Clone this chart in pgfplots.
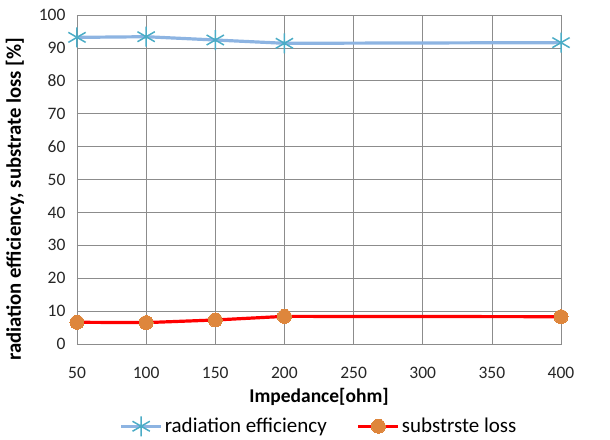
\documentclass[border=0pt]{standalone}
\usepackage{pgfplots}
\pgfplotsset{compat=1.18}
\usepackage{fontspec}
\setmainfont{Carlito}
\definecolor{effline}{RGB}{141,180,226}
\definecolor{effmark}{RGB}{75,172,198}
\definecolor{lossmark}{RGB}{222,134,60}
\definecolor{gridc}{RGB}{140,140,140}
\begin{document}
\begin{tikzpicture}
\begin{axis}[
  name=ax,
  scale only axis,
  width=484pt, height=329pt,
  xmin=50, xmax=400, ymin=0, ymax=100,
  xtick={50,100,...,400}, ytick={0,10,...,100},
  grid=major,
  major grid style={gridc, line width=0.7pt},
  axis line style={gridc, line width=0.7pt},
  major tick length=0pt,
  tick label style={font=\fontsize{17.5}{19}\selectfont, text=black!85},
  /pgf/number format/assume math mode=true,
  xticklabel style={yshift=-20pt},
  yticklabel style={xshift=-8pt},
  xlabel={\textbf{Impedance[ohm]}},
  ylabel={\textbf{radiation efficiency, substrate loss [\%]}},
  xlabel style={font=\fontsize{19.5}{21}\selectfont, at={(axis description cs:0.5,-0.16)}, anchor=center},
  ylabel style={font=\fontsize{20.7}{23}\selectfont, at={(axis description cs:-0.128,0.44)}, anchor=center},
  clip=false,
  legend style={at={(0.5,-0.25)}, anchor=center, draw=none, fill=none,
    legend columns=2, font=\fontsize{21}{23}\selectfont,
    /tikz/every even column/.append style={column sep=28pt}},
  legend image code/.code={
    \draw[#1] (0pt,0pt) -- (40pt,0pt);
    \draw[#1, only marks] plot coordinates {(20pt,0pt)};
  },
]
\addplot[effline, line width=3.2pt, mark=asterisk, mark size=10pt,
  mark options={effmark, line width=1.5pt}]
  coordinates {(50,93.2) (100,93.4) (150,92.4) (200,91.4) (400,91.6)};
\addlegendentry{radiation efficiency}
\addplot[red, line width=3.2pt, mark=*, mark size=7pt,
  mark options={fill=lossmark, draw=lossmark, line width=0pt}]
  coordinates {(50,6.6) (100,6.5) (150,7.3) (200,8.4) (400,8.3)};
\addlegendentry{substrste loss}
\end{axis}
\pgfresetboundingbox
\path[use as bounding box] ([shift={(-77pt,-95pt)}]ax.south west) rectangle ([shift={(49pt,15pt)}]ax.north east);
\end{tikzpicture}
\end{document}
